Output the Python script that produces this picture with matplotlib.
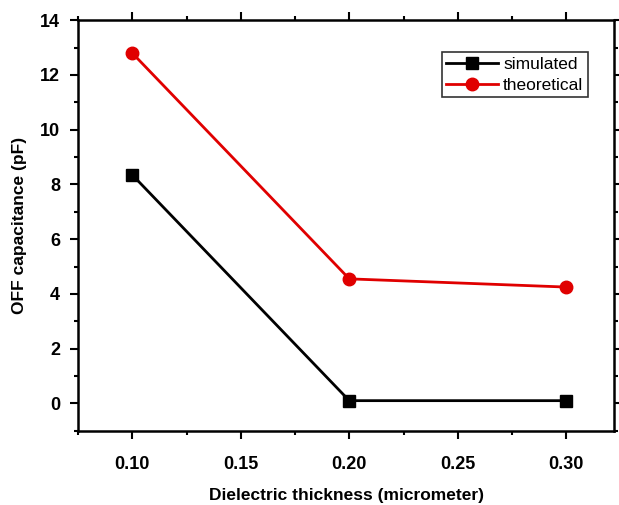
import matplotlib
matplotlib.use("Agg")
import matplotlib.pyplot as plt
from matplotlib.ticker import MultipleLocator

thickness = [0.10, 0.20, 0.30]
simulated = [8.35, 0.1, 0.1]
theoretical = [12.8, 4.55, 4.25]

plt.rcParams['font.family'] = ['Liberation Sans', 'DejaVu Sans']

fig = plt.figure(figsize=(6.19, 5.05), dpi=100)
ax = fig.add_axes([0.126, 0.147, 0.866, 0.813])

ax.plot(thickness, simulated, color='black', marker='s', markersize=9, linewidth=2, label='simulated')
ax.plot(thickness, theoretical, color='#e00000', marker='o', markersize=9, linewidth=2, label='theoretical')

ax.set_xlim(0.075, 0.322)
ax.set_ylim(-1, 14)
ax.xaxis.set_major_locator(MultipleLocator(0.05))
ax.xaxis.set_minor_locator(MultipleLocator(0.025))
ax.yaxis.set_major_locator(MultipleLocator(2))
ax.yaxis.set_minor_locator(MultipleLocator(1))
ax.xaxis.set_major_formatter(plt.FormatStrFormatter('%.2f'))

ax.tick_params(which='both', direction='out', top=True, right=True, width=1.5)
ax.tick_params(which='major', length=6, labelsize=13)
ax.tick_params(axis='x', which='major', pad=12)
ax.tick_params(axis='y', which='major', pad=7)
ax.tick_params(which='minor', length=3)
for lbl in ax.get_xticklabels() + ax.get_yticklabels():
    lbl.set_fontweight('bold')
for sp in ax.spines.values():
    sp.set_linewidth(1.8)

ax.set_xlabel('Dielectric thickness (micrometer)', fontsize=12.5, fontweight='bold', labelpad=11)
ax.set_ylabel('OFF capacitance (pF)', fontsize=12.5, fontweight='bold', labelpad=9)

leg = ax.legend(loc='upper right', bbox_to_anchor=(0.951, 0.922), fontsize=12.5, frameon=True,
                fancybox=False, edgecolor='black', borderpad=0.25, handlelength=3,
                labelspacing=0.35, handletextpad=0.3, borderaxespad=0)
leg.get_frame().set_linewidth(1.2)

fig.savefig('out.png', dpi=100)
